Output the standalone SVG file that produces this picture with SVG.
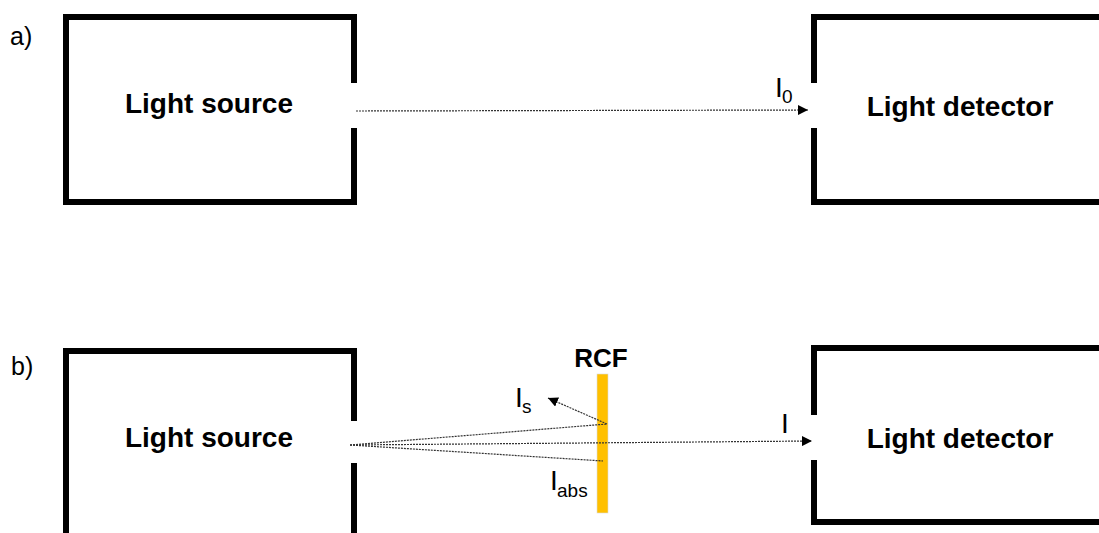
<svg xmlns="http://www.w3.org/2000/svg" width="1099" height="533" viewBox="0 0 1099 533">
  <style>
    .wall { fill: none; stroke: #000; stroke-width: 6; stroke-linejoin: miter; }
    .title { font-family: "Liberation Sans", Arial, sans-serif; font-weight: bold; font-size: 28px; fill: #000; text-anchor: middle; }
    .lbl { font-family: "Liberation Sans", Arial, sans-serif; font-size: 28px; fill: #000; }
    .sub { font-family: "Liberation Sans", Arial, sans-serif; font-size: 19px; fill: #000; }
    .panel { font-family: "Liberation Sans", Arial, sans-serif; font-size: 25px; fill: #000; }
    .ray { fill: none; stroke: #333; stroke-width: 1.2; stroke-dasharray: 2 1; }
  </style>
  <defs>
    <marker id="head" markerUnits="userSpaceOnUse" markerWidth="12" markerHeight="10" refX="10" refY="5" orient="auto">
      <path d="M0,0 L10,5 L0,10 Z" fill="#000"/>
    </marker>
  </defs>

  <rect width="1099" height="533" fill="#fff"/>

  <!-- panel a -->
  <text class="panel" x="10" y="45">a)</text>
  <g id="source-a">
    <path class="wall" d="M354,83 V17 H66 V202 H354 V128"/>
    <text class="title" x="209" y="113">Light source</text>
  </g>
  <g id="detector-a">
    <path class="wall" d="M1110,17 H814 V83 M814,128 V202 H1110"/>
    <text class="title" x="960" y="116">Light detector</text>
  </g>

  <!-- panel b -->
  <text class="panel" x="11" y="375">b)</text>
  <g id="source-b">
    <path class="wall" d="M354,421 V351 H66 V540 M354,463 V540"/>
    <text class="title" x="209" y="447">Light source</text>
  </g>
  <g id="detector-b">
    <path class="wall" d="M1110,348 H814 V415 M814,460 V522 H1110"/>
    <text class="title" x="960" y="448">Light detector</text>
  </g>
  <g id="rcf">
    <rect x="597" y="374" width="11" height="139" fill="#FFC000" stroke="#D9D9D9" stroke-width="0.6"/>
    <text class="title" x="601" y="367" style="font-size:26px">RCF</text>
  </g>

  <!-- beams -->
  <g id="connectors">
    <line class="ray" x1="356" y1="111" x2="808" y2="110" marker-end="url(#head)"/>
    <line class="ray" x1="350" y1="445" x2="812" y2="441" marker-end="url(#head)"/>
    <line class="ray" x1="350" y1="445" x2="607" y2="424"/>
    <line class="ray" x1="350" y1="445" x2="603" y2="461"/>
    <line class="ray" x1="607" y1="424" x2="548" y2="398" marker-end="url(#head)"/>
  </g>

  <!-- intensity labels -->
  <g id="labels">
    <text class="lbl" x="775" y="97">I</text>
    <text class="sub" x="782" y="103">0</text>
    <text class="lbl" x="515" y="407">I</text>
    <text class="sub" x="522" y="413">s</text>
    <text class="lbl" x="550" y="490">I</text>
    <text class="sub" x="557" y="497">abs</text>
    <text class="lbl" x="781" y="433">I</text>
  </g>
</svg>
